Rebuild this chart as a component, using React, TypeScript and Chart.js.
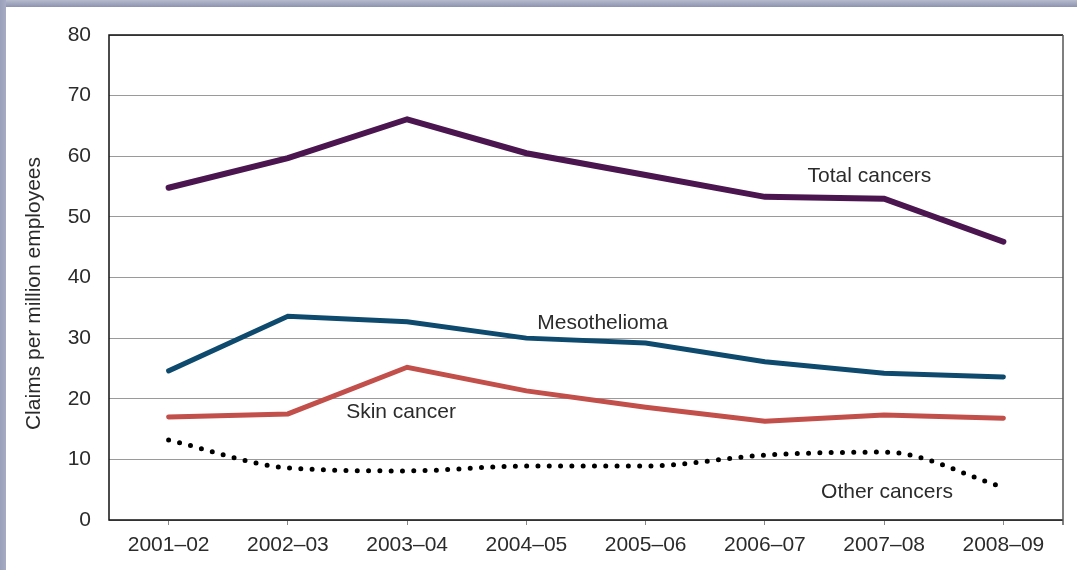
import React, { useEffect, useRef } from "react";
import { Chart, registerables } from "chart.js";

Chart.register(...registerables);

const categories = ["2001–02", "2002–03", "2003–04", "2004–05", "2005–06", "2006–07", "2007–08", "2008–09"];
const totalCancers = [54.8, 59.7, 66.1, 60.5, 56.9, 53.3, 53.0, 45.9];
const mesothelioma = [24.6, 33.6, 32.7, 30.0, 29.2, 26.1, 24.2, 23.6];
const skinCancer = [17.0, 17.5, 25.2, 21.3, 18.6, 16.3, 17.3, 16.8];
const otherCancers = [13.2, 8.6, 8.1, 8.9, 8.9, 10.7, 11.2, 5.4];
const yTicks = [0, 10, 20, 30, 40, 50, 60, 70, 80];
const yTitle = "Claims per million employees";
// series labels: [text, category-index position, value position (baseline)]
const seriesLabels: [string, number, number][] = [
  ["Total cancers", 5.877, 55.75],
  ["Mesothelioma", 3.639, 31.5],
  ["Skin cancer", 1.949, 16.8],
  ["Other cancers", 6.024, 3.63],
];

const FONT = "'Liberation Sans', Arial, sans-serif";
const TEXT = "#2b2b2b";

const overlay = {
  id: "overlay",
  afterDatasetsDraw(chart: any) {
    const { ctx, chartArea } = chart;
    const xs = chart.scales.x;
    const ys = chart.scales.y;
    ctx.save();
    // frame
    ctx.lineWidth = 1.5;
    ctx.strokeStyle = "#111";
    ctx.beginPath();
    ctx.moveTo(chartArea.right, chartArea.top);
    ctx.lineTo(chartArea.left, chartArea.top);
    ctx.lineTo(chartArea.left, chartArea.bottom);
    ctx.lineTo(chartArea.right, chartArea.bottom);
    ctx.stroke();
    ctx.strokeStyle = "#555";
    ctx.beginPath();
    ctx.moveTo(chartArea.right, chartArea.top);
    ctx.lineTo(chartArea.right, chartArea.bottom + 5);
    ctx.stroke();
    // series labels
    ctx.fillStyle = TEXT;
    ctx.font = `21px ${FONT}`;
    ctx.textAlign = "center";
    ctx.textBaseline = "alphabetic";
    for (const [t, xi, yv] of seriesLabels) {
      const x = xs.getPixelForValue(xi);
      const y = ys.getPixelForValue(yv);
      ctx.fillText(t, x, y);
    }
    // y title
    ctx.translate(34, (chartArea.top + chartArea.bottom) / 2 + 16);
    ctx.rotate(-Math.PI / 2);
    ctx.textBaseline = "middle";
    ctx.fillText(yTitle, 0, 0);
    ctx.restore();
  },
};

export default function App() {
  const ref = useRef<HTMLCanvasElement>(null);
  useEffect(() => {
    const chart = new Chart(ref.current!, {
      type: "line",
      data: {
        labels: categories,
        datasets: [
          {
            data: totalCancers,
            borderColor: "#4b1550",
            borderWidth: 6,
            borderCapStyle: "round",
            pointRadius: 0,
            tension: 0,
          },
          {
            data: mesothelioma,
            borderColor: "#0e4a6e",
            borderWidth: 5,
            borderCapStyle: "round",
            pointRadius: 0,
            tension: 0,
          },
          {
            data: skinCancer,
            borderColor: "#c24f4a",
            borderWidth: 5,
            borderCapStyle: "round",
            pointRadius: 0,
            tension: 0,
          },
          {
            data: otherCancers,
            borderColor: "#000",
            borderWidth: 5,
            borderCapStyle: "round",
            borderDash: [0, 11.3],
            pointRadius: 0,
            cubicInterpolationMode: "monotone",
          },
        ],
      } as any,
      options: {
        animation: false,
        responsive: false,
        devicePixelRatio: 1,
        layout: { padding: { left: 0, top: 35, right: 14, bottom: 0 } },
        plugins: { legend: { display: false }, tooltip: { enabled: false }, title: { display: false } },
        scales: {
          x: {
            type: "category",
            offset: true,
            grid: { display: true, drawOnChartArea: false, drawTicks: true, tickLength: 5, color: "#888", offset: false },
            border: { display: false },
            ticks: { color: TEXT, font: { family: FONT, size: 21 }, padding: 8, maxRotation: 0, autoSkip: false },
            afterFit: (s: any) => { s.height = 50; },
          },
          y: {
            min: 0,
            max: 80,
            afterBuildTicks: (s: any) => { s.ticks = yTicks.map((v) => ({ value: v })); },
            grid: { color: "#9a9a9a", lineWidth: 1, drawTicks: false },
            border: { display: false },
            ticks: { color: TEXT, font: { family: FONT, size: 21 }, padding: 18 },
            afterFit: (s: any) => { s.width = 109; },
          },
        },
      } as any,
      plugins: [overlay],
    });
    return () => chart.destroy();
  }, []);
  return (
    <div style={{ position: "absolute", left: 0, top: 0, width: 1077, height: 570, background: "#fff", overflow: "hidden" }}>
      <div style={{ position: "absolute", left: 0, top: 0, width: 1077, height: 7, background: "linear-gradient(#b6bbcd, #8c93ae)" }} />
      <div style={{ position: "absolute", left: 0, top: 0, width: 6, height: 570, background: "linear-gradient(to right, #9aa0ba, #a7acc3)" }} />
      <canvas ref={ref} width={1077} height={570} style={{ position: "absolute", left: 0, top: 0 }} />
    </div>
  );
}
